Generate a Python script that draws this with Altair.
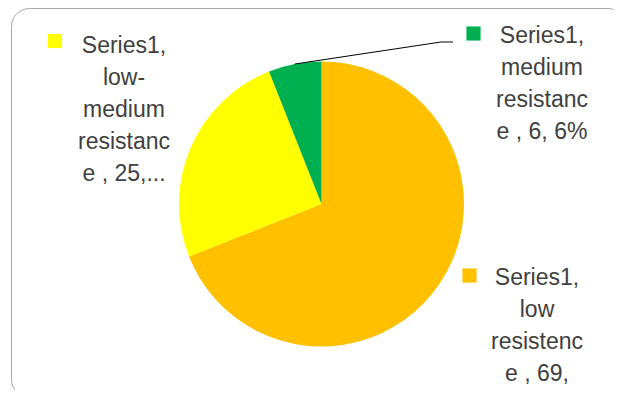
import math
import altair as alt
import pandas as pd

# ---- data ----
categories = ["low resistence", "low-medium resistance", "medium resistance"]
values = [69, 25, 6]
colors = ["#FFC000", "#FFFF00", "#00B050"]
label_lines = [
    ["Series1,", "low", "resistenc", "e , 69,", "69%"],
    ["Series1,", "low-", "medium", "resistanc", "e , 25,..."],
    ["Series1,", "medium", "resistanc", "e , 6, 6%"],
]

df = pd.DataFrame({"category": categories, "value": values, "idx": list(range(len(values)))})

# layout (pixels, chart coordinates)
CX, CY, R = 313.5, 196, 142.5
label_pos = {  # center x, first baseline y, marker x, marker y
    "low resistence": (529, 277, 461.5, 267.5),
    "low-medium resistance": (116, 45, 47, 33),
    "medium resistance": (534, 35, 465.5, 25.5),
}
FONT = "Liberation Sans"
TXT = "#404040"

dummy = pd.DataFrame({"a": [0]})

border = alt.Chart(dummy).mark_rect(
    cornerRadius=18, fill="white", stroke="#A6A6A6", strokeWidth=1, clip=True
).encode(x=alt.value(3.5), x2=alt.value(618), y=alt.value(0.5), y2=alt.value(389.5))

pie = alt.Chart(df).mark_arc(outerRadius=R).encode(
    theta=alt.Theta("value:Q", stack=True),
    order=alt.Order("idx:Q"),
    color=alt.Color("category:N", scale=alt.Scale(domain=categories, range=colors), legend=None),
    x=alt.value(CX),
    y=alt.value(CY),
)

# leader line for the small slice: from the mid-angle point on the rim
total = sum(values)
start = sum(values[:2]) / total * 2 * math.pi
mid = start + values[2] / total * math.pi
lx = CX + R * math.sin(mid)
ly = CY - R * math.cos(mid)
lead1 = alt.Chart(dummy).mark_rule(color="#000000", strokeWidth=1).encode(
    x=alt.value(lx), y=alt.value(ly), x2=alt.value(433), y2=alt.value(34)
)
lead2 = alt.Chart(dummy).mark_rule(color="#000000", strokeWidth=1).encode(
    x=alt.value(433), y=alt.value(34), x2=alt.value(445), y2=alt.value(34)
)

layers = [border, pie, lead1, lead2]
for cat, col, lines in zip(categories, colors, label_lines):
    tx, ty, mx, my = label_pos[cat]
    layers.append(
        alt.Chart(dummy).mark_text(
            font=FONT, fontSize=23, color=TXT, align="center", baseline="alphabetic",
            lineHeight=32, clip=True
        ).encode(x=alt.value(tx), y=alt.value(ty), text=alt.value(lines))
    )
    layers.append(
        alt.Chart(dummy).mark_square(size=200, color=col, opacity=1).encode(
            x=alt.value(mx), y=alt.value(my)
        )
    )

chart = alt.layer(*layers).properties(width=606, height=382, padding=0).configure_view(strokeWidth=0)

chart.save("out.html", embed_options={"renderer": "svg", "actions": False})
